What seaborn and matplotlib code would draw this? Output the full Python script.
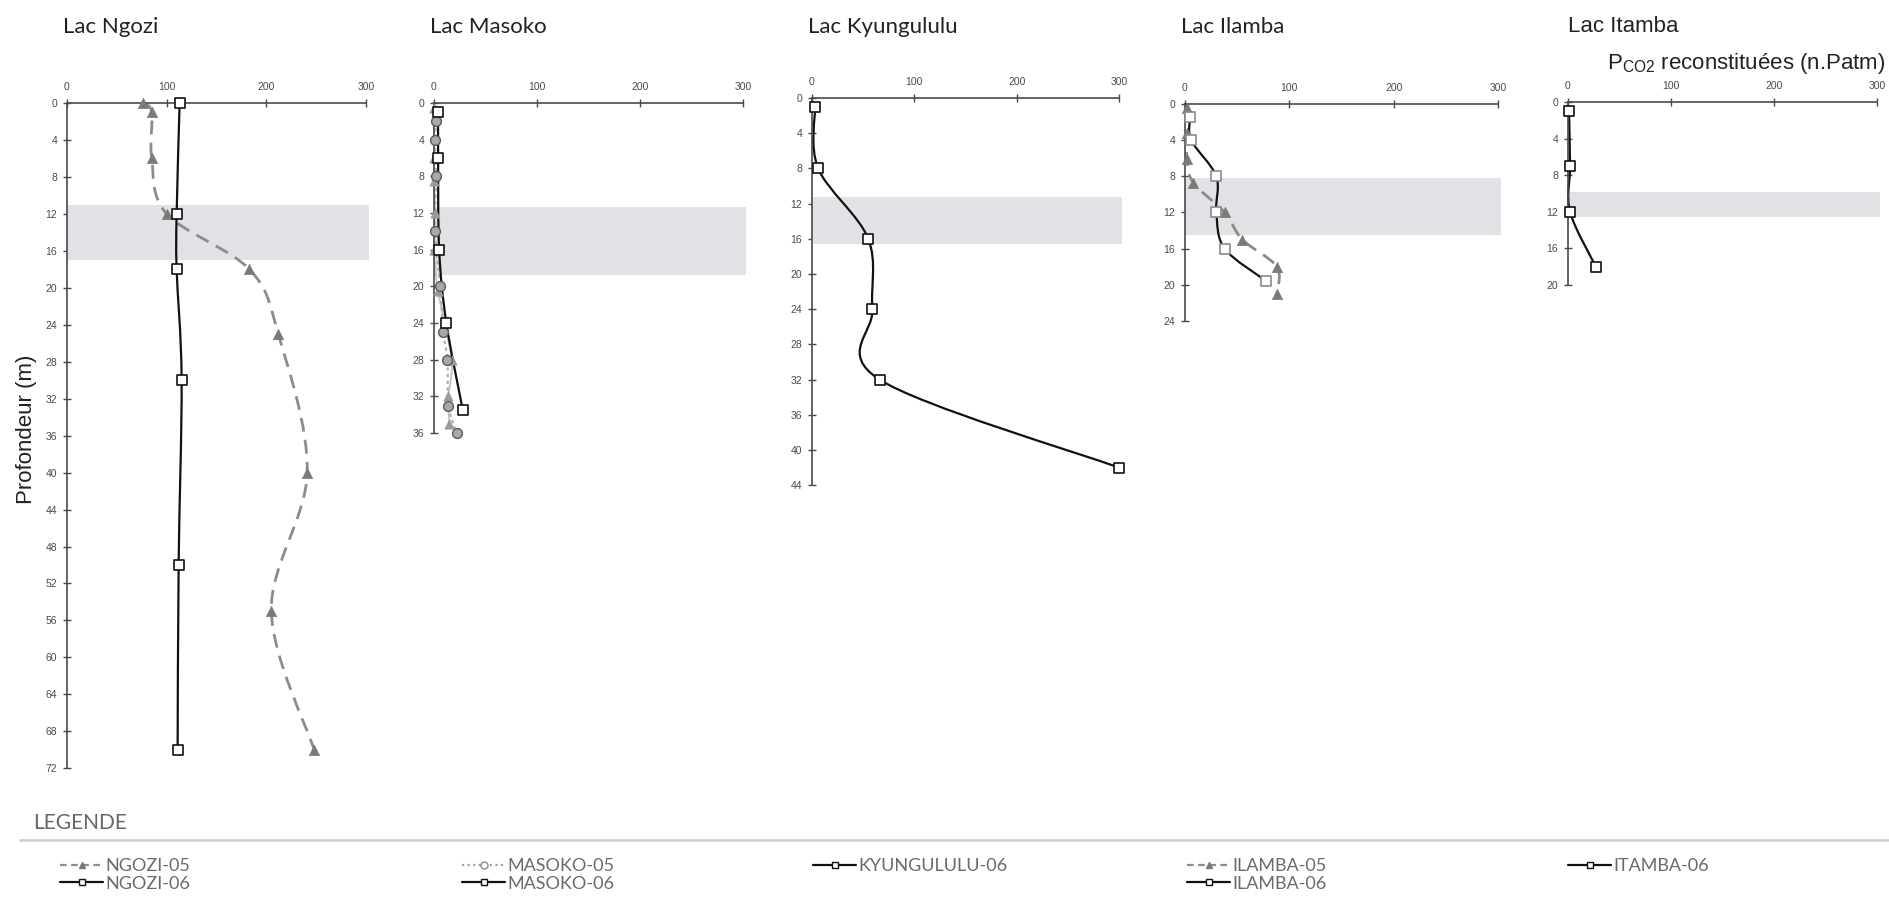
import numpy as np
import pandas as pd
import matplotlib
matplotlib.use("Agg")
import matplotlib.pyplot as plt
import seaborn as sns
from matplotlib.path import Path
from matplotlib.patches import PathPatch
from matplotlib.lines import Line2D

# ==========================
# Data (PCO2 reconstituted, n.Patm, vs depth in m)
# ==========================
ngozi05_depth = [0, 1, 6, 12, 18, 25, 40, 55, 70]
ngozi05_pco2 = [76, 85, 85, 100, 183, 212, 241, 205, 248]
ngozi06_depth = [0, 12, 18, 30, 50, 70]
ngozi06_pco2 = [113, 110, 110, 115, 112, 111]

masoko05_depth = [2, 4, 8, 14, 20, 25, 28, 33, 36]
masoko05_pco2 = [2, 1, 2, 1, 6, 9, 13, 14, 22]
masoko_tri_depth = [0.5, 6, 8.5, 12, 16, 20.5, 28, 32, 35]
masoko_tri_pco2 = [0, 0, 0, 1, 0, 4, 17, 14, 15]
masoko06_depth = [1, 6, 16, 24, 33.5]
masoko06_pco2 = [4, 4, 5, 12, 28]

kyungululu06_depth = [1, 8, 16, 24, 32, 42]
kyungululu06_pco2 = [3, 6, 55, 59, 66, 300]

ilamba05_depth = [0.4, 3.2, 6.1, 8.7, 12, 15, 18, 21]
ilamba05_pco2 = [2, 2, 2, 8, 38, 55, 88, 88]
ilamba06_depth = [1.4, 4, 8, 12, 16, 19.6]
ilamba06_pco2 = [5, 6, 30, 30, 38, 78]

itamba06_depth = [1, 7, 12, 18]
itamba06_pco2 = [1, 2, 2, 27]

lakes = ["Lac Ngozi", "Lac Masoko", "Lac Kyungululu", "Lac Ilamba", "Lac Itamba"]
max_depth = [72, 36, 44, 24, 20]
band_top = [11, 11.3, 11.2, 8.2, 9.8]
band_bottom = [17, 18.8, 16.6, 14.5, 12.6]
x_ticks = [0, 100, 200, 300]

# ==========================
# Style
# ==========================
sns.set_theme(style="white")
plt.rcParams["font.family"] = ["Liberation Sans", "DejaVu Sans"]
plt.rcParams["mathtext.fontset"] = "custom"
plt.rcParams["mathtext.rm"] = "Liberation Sans"
humanist = ["Lato", "Liberation Sans", "DejaVu Sans"]

AXIS_COL = "#4a4a4a"
TICK_COL = "#4a4a4a"
BAND_COL = "#e1e2e6"


def smooth_path(x, y):
    # Excel-like smoothed line: cubic Bezier through the measured points
    pts = np.column_stack([x, y]).astype(float)
    n = len(pts)
    verts = [pts[0]]
    codes = [Path.MOVETO]
    for i in range(n - 1):
        p0 = pts[i - 1] if i > 0 else pts[i]
        p1 = pts[i]
        p2 = pts[i + 1]
        p3 = pts[i + 2] if i + 2 < n else pts[i + 1]
        verts += [p1 + (p2 - p0) / 6, p2 - (p3 - p1) / 6, p2]
        codes += [Path.CURVE4] * 3
    return Path(verts, codes)


def draw_series(ax, pco2, depth, line, marker):
    ax.add_patch(PathPatch(smooth_path(pco2, depth), fill=False, zorder=2,
                           clip_on=False, **line))
    df = pd.DataFrame({"pco2": pco2, "depth": depth})
    sns.scatterplot(data=df, x="pco2", y="depth", ax=ax, legend=False,
                    zorder=4, clip_on=False, **marker)


tri_line = dict(edgecolor="#8c8c8c", lw=2.0, linestyle=(0, (5, 3)))
tri_mark = dict(marker="^", s=55, color="#7a7a7a", edgecolor="#7a7a7a", linewidth=0.5)
sq_line = dict(edgecolor="#111111", lw=1.6, linestyle="-")
sq_mark = dict(marker="s", s=55, color="white", edgecolor="#111111", linewidth=1.2)
circ_line = dict(edgecolor="#b0b0b0", lw=1.6, linestyle=(0, (1.5, 1.5)))
circ_mark = dict(marker="o", s=50, color="#a8a8a8", edgecolor="#5a5a5a", linewidth=1.0)
tri_light_line = dict(edgecolor="#c4c4c4", lw=1.4, linestyle="-")
tri_light_mark = dict(marker="^", s=45, color="#9a9a9a", edgecolor="#9a9a9a", linewidth=0.5)
sq_gray_mark = dict(marker="s", s=55, color="white", edgecolor="#8a8a8a", linewidth=1.2)

series = [
    [(ngozi05_pco2, ngozi05_depth, tri_line, tri_mark),
     (ngozi06_pco2, ngozi06_depth, sq_line, sq_mark)],
    [(masoko_tri_pco2, masoko_tri_depth, tri_light_line, tri_light_mark),
     (masoko05_pco2, masoko05_depth, circ_line, circ_mark),
     (masoko06_pco2, masoko06_depth, sq_line, sq_mark)],
    [(kyungululu06_pco2, kyungululu06_depth, sq_line, sq_mark)],
    [(ilamba05_pco2, ilamba05_depth, tri_line, tri_mark),
     (ilamba06_pco2, ilamba06_depth, sq_line, sq_gray_mark)],
    [(itamba06_pco2, itamba06_depth, sq_line, sq_mark)],
]

# axes rectangles in pixels: left, top, width, px per metre
W, H = 1890, 900
rects = [(67, 103, 299, 9.24), (434, 103, 309, 9.17), (812, 98, 307, 8.8),
         (1185, 104, 313, 9.04), (1568, 102, 309, 9.15)]

fig = plt.figure(figsize=(18.9, 9), dpi=100)

for i, lake in enumerate(lakes):
    left, top, width, ppm = rects[i]
    height = max_depth[i] * ppm
    ax = fig.add_axes([left / W, 1 - (top + height) / H, width / W, height / H])
    ax.set_facecolor("none")

    ax.fill_betweenx([band_top[i], band_bottom[i]], 0, 303, color=BAND_COL,
                     lw=0, zorder=1, clip_on=False)
    for pco2, depth, line, marker in series[i]:
        draw_series(ax, pco2, depth, line, marker)

    ax.set_xlim(0, 300)
    ax.set_ylim(max_depth[i], 0)
    ax.set_xticks(x_ticks)
    ax.set_yticks(np.arange(0, max_depth[i] + 1, 4))
    ax.xaxis.tick_top()
    ax.set_xlabel("")
    ax.set_ylabel("")
    for side in ["right", "bottom"]:
        ax.spines[side].set_visible(False)
    for side in ["left", "top"]:
        ax.spines[side].set_color(AXIS_COL)
        ax.spines[side].set_linewidth(1.2)
        ax.spines[side].set_zorder(3)
    ax.tick_params(axis="both", which="both", direction="inout", length=6,
                   width=1, color=AXIS_COL, labelsize=7.5, labelcolor=TICK_COL,
                   top=True, left=True, bottom=False, right=False)
    ax.tick_params(axis="x", pad=5)
    ax.tick_params(axis="y", pad=4)

    if lake == "Lac Itamba":
        fig.text(left / W, 1 - 27 / H, lake, fontsize=16, color="#222222",
                 ha="left", va="center")
    else:
        fig.text((left - 4) / W, 1 - 27 / H, lake, fontsize=16, color="#222222",
                 family=humanist, ha="left", va="center")

fig.text(1607 / W, 1 - 63 / H, r"P$_{\mathrm{CO2}}$ reconstituées (n.Patm)",
         fontsize=16, color="#222222", ha="left", va="center")
fig.text(27 / W, 1 - 429 / H, "Profondeur (m)", fontsize=16, color="#222222",
         rotation=90, ha="center", va="center")

# ==========================
# Legend
# ==========================
fig.text(33 / W, 1 - 823 / H, "LEGENDE", fontsize=15, color="#666666",
         family=humanist, ha="left", va="center")
fig.add_artist(Line2D([20 / W, 1], [1 - 840 / H, 1 - 840 / H],
                      transform=fig.transFigure, color="#cccccc", lw=1.8))


def proxy(color, ls, marker, mfc, mec):
    return Line2D([], [], color=color, lw=1.6, linestyle=ls, marker=marker,
                  markersize=5, markerfacecolor=mfc, markeredgecolor=mec)


legend_groups = [
    (60, [proxy("#8c8c8c", (0, (3, 2)), "^", "#7a7a7a", "#7a7a7a"),
          proxy("#111111", "-", "s", "white", "#111111")],
     ["NGOZI-05", "NGOZI-06"]),
    (462, [proxy("#a0a0a0", (0, (1, 1.5)), "o", "white", "#8a8a8a"),
           proxy("#111111", "-", "s", "white", "#111111")],
     ["MASOKO-05", "MASOKO-06"]),
    (813, [proxy("#111111", "-", "s", "white", "#111111")],
     ["KYUNGULULU-06"]),
    (1187, [proxy("#8c8c8c", (0, (3, 2)), "^", "#7a7a7a", "#7a7a7a"),
            proxy("#111111", "-", "s", "white", "#111111")],
     ["ILAMBA-05", "ILAMBA-06"]),
    (1568, [proxy("#111111", "-", "s", "white", "#111111")],
     ["ITAMBA-06"]),
]
for x0, handles, labels in legend_groups:
    fig.legend(handles, labels, loc="upper left",
               bbox_to_anchor=(x0 / W, 1 - 858 / H), frameon=False,
               borderpad=0, borderaxespad=0, handlelength=2.4,
               handletextpad=0.1, labelspacing=0.1, labelcolor="#6a6a6a",
               prop={"family": humanist, "size": 13})

plt.savefig("out.png", dpi=100)
